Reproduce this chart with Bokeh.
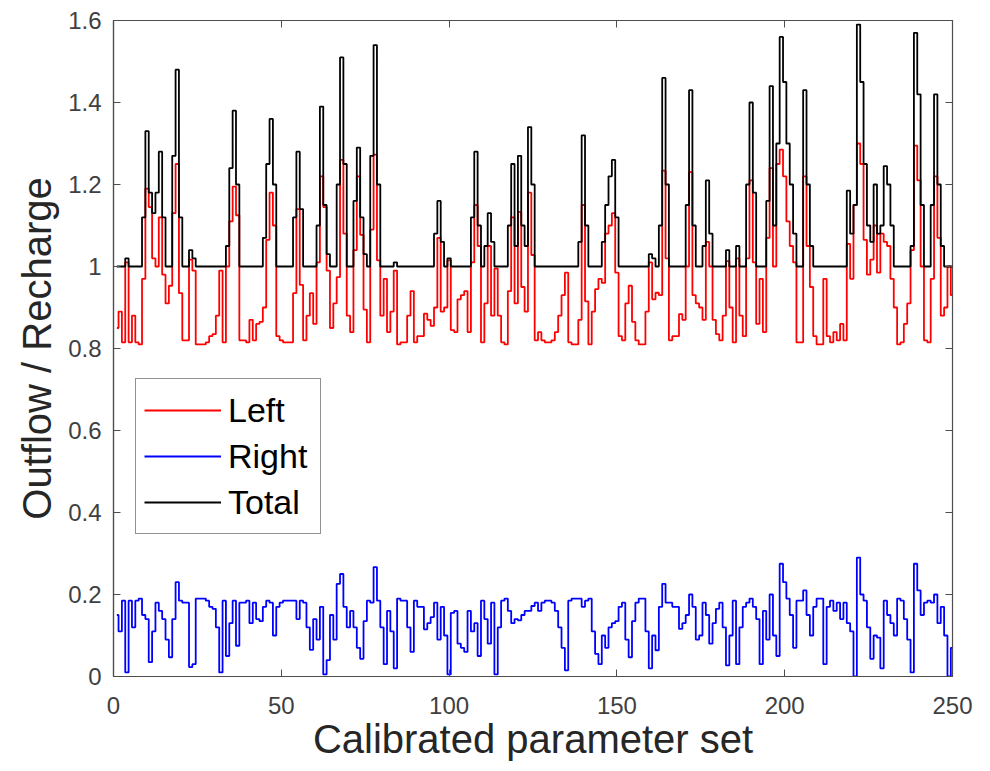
from bokeh.plotting import figure
from bokeh.models import (Range1d, FixedTicker, LinearAxis, CustomJSTickFormatter,
                          Legend, LegendItem)
from bokeh.embed import file_html
from bokeh.resources import INLINE

# ---------------- data ----------------
param_set = list(range(1, 251))

right = [
    0.15, 0.11, 0.185, 0.01, 0.185, 0.12, 0.185, 0.19, 0.15, 0.14,
    0.035, 0.11, 0.18, 0.16, 0.14, 0.09, 0.047, 0.14, 0.23, 0.185,
    0.18, 0.18, 0.023, 0.03, 0.19, 0.19, 0.19, 0.185, 0.17, 0.165,
    0.12, 0.01, 0.185, 0.05, 0.13, 0.185, 0.075, 0.18, 0.18, 0.185,
    0.13, 0.18, 0.14, 0.135, 0.17, 0.185, 0.18, 0.1, 0.17, 0.18,
    0.185, 0.185, 0.185, 0.185, 0.14, 0.185, 0.18, 0.12, 0.065, 0.14,
    0.09, 0.17, 0.005, 0.04, 0.15, 0.09, 0.226, 0.25, 0.17, 0.12,
    0.16, 0.12, 0.07, 0.043, 0.135, 0.185, 0.18, 0.267, 0.185, 0.12,
    0.03, 0.16, 0.11, 0.02, 0.19, 0.185, 0.185, 0.12, 0.06, 0.185,
    0.17, 0.17, 0.115, 0.13, 0.145, 0.18, 0.09, 0.17, 0.1, 0.005,
    0.155, 0.16, 0.08, 0.07, 0.06, 0.16, 0.11, 0.13, 0.05, 0.185,
    0.14, 0.08, 0.18, 0.005, 0.12, 0.185, 0.19, 0.16, 0.13, 0.14,
    0.137, 0.15, 0.16, 0.16, 0.172, 0.18, 0.16, 0.18, 0.185, 0.185,
    0.18, 0.16, 0.12, 0.07, 0.015, 0.185, 0.19, 0.19, 0.19, 0.17,
    0.185, 0.19, 0.11, 0.055, 0.03, 0.1, 0.07, 0.12, 0.13, 0.135,
    0.17, 0.18, 0.09, 0.047, 0.135, 0.18, 0.19, 0.19, 0.11, 0.02,
    0.1, 0.064, 0.17, 0.226, 0.18, 0.18, 0.17, 0.17, 0.116, 0.13,
    0.15, 0.2, 0.17, 0.09, 0.1, 0.18, 0.15, 0.08, 0.13, 0.165,
    0.18, 0.12, 0.027, 0.1, 0.185, 0.03, 0.12, 0.17, 0.18, 0.19,
    0.17, 0.14, 0.03, 0.16, 0.09, 0.2, 0.1, 0.05, 0.275, 0.23,
    0.19, 0.15, 0.07, 0.185, 0.185, 0.21, 0.15, 0.1, 0.17, 0.19,
    0.19, 0.03, 0.17, 0.185, 0.16, 0.18, 0.14, 0.18, 0.13, 0.11,
    0.0, 0.29, 0.2, 0.185, 0.12, 0.043, 0.1, 0.095, 0.02, 0.185,
    0.15, 0.13, 0.1, 0.19, 0.185, 0.14, 0.09, 0.01, 0.275, 0.21,
    0.15, 0.18, 0.185, 0.18, 0.2, 0.13, 0.17, 0.1, 0.0, 0.07,
]

total = [
    1, 1, 1, 1.02, 1, 1, 1, 1, 1.12, 1.33,
    1.18, 1.13, 1.18, 1.28, 1.12, 1, 1, 1.27, 1.48, 1.12,
    1, 1, 1.04, 1.02, 1, 1, 1, 1, 1, 1,
    1, 1, 1, 1.05, 1.24, 1.38, 1.2, 1, 1, 1,
    1, 1, 1, 1, 1.07, 1.25, 1.36, 1.2, 1, 1,
    1, 1, 1, 1.12, 1.28, 1.14, 1, 1, 1, 1,
    1.1, 1.39, 1.15, 1.03, 1, 1, 1.2, 1.51, 1.25, 1,
    1, 1.16, 1.29, 1.12, 1.03, 1, 1.27, 1.54, 1.2, 1,
    1, 1, 1, 1.01, 1, 1, 1, 1, 1, 1,
    1, 1, 1, 1, 1, 1.08, 1.16, 1.06, 1, 1.02,
    1, 1, 1, 1, 1, 1, 1.12, 1.28, 1.1, 1,
    1.05, 1.13, 1.06, 1, 1, 1, 1, 1.1, 1.25, 1.05,
    1.27, 1.1, 1.05, 1.34, 1.2, 1, 1, 1, 1, 1,
    1, 1, 1, 1, 1, 1, 1, 1, 1.06, 1.32,
    1.1, 1, 1, 1, 1, 1.06, 1.15, 1.22, 1.26, 1.12,
    1, 1, 1, 1, 1, 1, 1, 1, 1, 1.03,
    1.02, 1, 1.1, 1.46, 1.2, 1, 1, 1, 1, 1,
    1.15, 1.43, 1.1, 1, 1, 1.05, 1.21, 1.08, 1, 1,
    1, 1, 1.04, 1, 1, 1.05, 1, 1, 1.2, 1.4,
    1.18, 1, 1, 1, 1.16, 1.44, 1.1, 1.3, 1.56, 1.45,
    1.3, 1.2, 1.08, 1, 1, 1.43, 1.2, 1.05, 1, 1,
    1, 1, 1, 1, 1, 1, 1, 1, 1.185, 1.08,
    1.15, 1.59, 1.45, 1.25, 1.1, 1.06, 1.2, 1.08, 1.1, 1.245,
    1.2, 1.1, 1, 1, 1, 1, 1, 1.05, 1.57, 1.42,
    1.15, 1, 1, 1.15, 1.42, 1.2, 1.05, 1, 1, 1,
]

left = [
    0.85, 0.89, 0.815, 1.01, 0.815, 0.88, 0.815, 0.81, 0.97, 1.19,
    1.145, 1.02, 1.0, 1.12, 0.98, 0.91, 0.953, 1.13, 1.25, 0.935,
    0.82, 0.82, 1.017, 0.99, 0.81, 0.81, 0.81, 0.815, 0.83, 0.835,
    0.88, 0.99, 0.815, 1.0, 1.11, 1.195, 1.125, 0.82, 0.82, 0.815,
    0.87, 0.82, 0.86, 0.865, 0.9, 1.065, 1.18, 1.1, 0.83, 0.82,
    0.815, 0.815, 0.815, 0.935, 1.14, 0.955, 0.82, 0.88, 0.935, 0.86,
    1.01, 1.22, 1.145, 0.99, 0.85, 0.91, 0.974, 1.26, 1.08, 0.88,
    0.84, 1.04, 1.22, 1.077, 0.895, 0.815, 1.09, 1.273, 1.015, 0.88,
    0.97, 0.84, 0.89, 0.99, 0.81, 0.815, 0.815, 0.88, 0.94, 0.815,
    0.83, 0.83, 0.885, 0.87, 0.855, 0.9, 1.07, 0.89, 0.9, 1.015,
    0.845, 0.84, 0.92, 0.93, 0.94, 0.84, 1.01, 1.15, 1.05, 0.815,
    0.91, 1.05, 0.88, 0.995, 0.88, 0.815, 0.81, 0.94, 1.12, 0.91,
    1.133, 0.95, 0.89, 1.18, 1.028, 0.82, 0.84, 0.82, 0.815, 0.815,
    0.82, 0.84, 0.88, 0.93, 0.985, 0.815, 0.81, 0.81, 0.87, 1.15,
    0.915, 0.81, 0.89, 0.945, 0.97, 0.96, 1.08, 1.1, 1.13, 0.985,
    0.83, 0.82, 0.91, 0.953, 0.865, 0.82, 0.81, 0.81, 0.89, 1.01,
    0.92, 0.936, 0.93, 1.234, 1.02, 0.82, 0.83, 0.83, 0.884, 0.87,
    1.0, 1.23, 0.93, 0.91, 0.9, 0.87, 1.06, 1.0, 0.87, 0.835,
    0.82, 0.88, 1.013, 0.9, 0.815, 1.02, 0.88, 0.83, 1.02, 1.21,
    1.01, 0.86, 0.97, 0.84, 1.07, 1.24, 1.0, 1.25, 1.285, 1.22,
    1.11, 1.05, 1.01, 0.815, 0.815, 1.22, 1.05, 0.95, 0.83, 0.81,
    0.81, 0.97, 0.83, 0.815, 0.84, 0.82, 0.86, 0.82, 1.055, 0.97,
    1.15, 1.30, 1.25, 1.065, 0.98, 1.017, 1.1, 0.985, 1.08, 1.06,
    1.05, 0.97, 0.9, 0.81, 0.815, 0.86, 0.91, 1.04, 1.295, 1.21,
    1.0, 0.82, 0.815, 0.97, 1.22, 1.07, 0.88, 0.9, 1.0, 0.93,
]

x_ticks = [0, 50, 100, 150, 200, 250]
y_ticks = [0, 0.2, 0.4, 0.6, 0.8, 1.0, 1.2, 1.4, 1.6]
series_names = ["Left", "Right", "Total"]

# ---------------- styling ----------------
FONT = "Liberation Sans"
AXIS_COL = "#4d4d4d"
TICK_COL = "#404040"

p = figure(width=975, height=763, output_backend="svg", toolbar_location=None,
           x_range=Range1d(0, 250), y_range=Range1d(0, 1.6),
           min_border_left=113, min_border_right=23,
           min_border_top=20, min_border_bottom=87)
p.background_fill_color = "white"
p.border_fill_color = "white"
p.outline_line_color = AXIS_COL
p.outline_line_width = 1.2
p.xgrid.visible = False
p.ygrid.visible = False

fmt = CustomJSTickFormatter(code="return Number(tick.toFixed(1)).toString();")

for ax, ticks in ((p.xaxis[0], x_ticks), (p.yaxis[0], y_ticks)):
    ax.ticker = FixedTicker(ticks=ticks)
    ax.formatter = fmt
    ax.major_tick_in = 7
    ax.major_tick_out = 0
    ax.minor_tick_line_color = None
    ax.axis_line_color = AXIS_COL
    ax.major_tick_line_color = AXIS_COL
    ax.axis_line_width = 1.2
    ax.major_label_text_font = FONT
    ax.major_label_text_font_size = "24px"
    ax.major_label_text_color = TICK_COL
    ax.axis_label_text_font = FONT
    ax.axis_label_text_font_size = "40px"
    ax.axis_label_text_font_style = "normal"
    ax.axis_label_text_color = "#262626"

p.xaxis.axis_label = "Calibrated parameter set"
p.yaxis.axis_label = "Outflow / Recharge"
p.xaxis.major_label_standoff = 20
p.yaxis.major_label_standoff = 12
p.xaxis.axis_label_standoff = 0
p.yaxis.axis_label_standoff = 6

blank = CustomJSTickFormatter(code="return '';")
for side, ticks in (("above", x_ticks), ("right", y_ticks)):
    ax = LinearAxis(ticker=FixedTicker(ticks=ticks), formatter=blank,
                    major_tick_in=7, major_tick_out=0,
                    major_tick_line_color=AXIS_COL,
                    minor_tick_line_color=None, axis_line_color=None,
                    major_label_standoff=0,
                    major_label_text_font_size="1px")
    p.add_layout(ax, side)

r_left = p.step(param_set, left, mode="center", line_color="#ff0000", line_width=1.8)
r_right = p.step(param_set, right, mode="center", line_color="#0000ff", line_width=1.8)
r_total = p.step(param_set, total, mode="center", line_color="#000000", line_width=1.8)

legend = Legend(items=[LegendItem(label=series_names[0], renderers=[r_left]),
                       LegendItem(label=series_names[1], renderers=[r_right]),
                       LegendItem(label=series_names[2], renderers=[r_total])],
                location=(22, 142))
legend.label_text_font = FONT
legend.label_text_font_size = "34px"
legend.label_text_color = "#000000"
legend.glyph_width = 77
legend.glyph_height = 46
legend.label_height = 46
legend.label_width = 84
legend.label_standoff = 7
legend.padding = 8
legend.spacing = 0
legend.margin = 0
legend.border_line_color = "#262626"
legend.border_line_width = 1.2
legend.background_fill_color = "white"
legend.background_fill_alpha = 1.0
p.add_layout(legend, "center")

open("out.html", "w").write(file_html(p, INLINE))
